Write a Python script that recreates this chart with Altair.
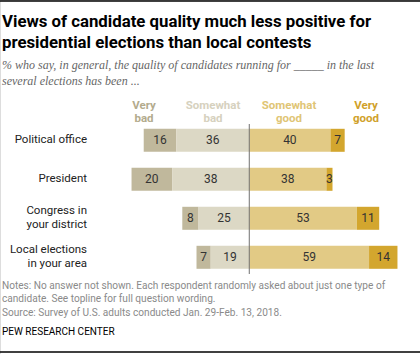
import altair as alt
import pandas as pd

categories = ["Political office", "President", "Congress in\nyour district", "Local elections\nin your area"]
very_bad = [16, 20, 8, 7]
somewhat_bad = [36, 38, 25, 19]
somewhat_good = [40, 38, 53, 59]
very_good = [7, 3, 11, 14]

levels = ["Very bad", "Somewhat bad", "Somewhat good", "Very good"]
header_lines = [["Very", "bad"], ["Somewhat", "bad"], ["Somewhat", "good"], ["Very", "good"]]
colors = ["#C0B89C", "#DCD8C5", "#E2CA85", "#D3A62E"]
header_colors = ["#B3AB8D", "#D6D1BE", "#DFC575", "#D0A12A"]
header_px = [144, 213, 289, 366]

rows = []
for i, c in enumerate(categories):
    vb, sb, sg, vg = very_bad[i], somewhat_bad[i], somewhat_good[i], very_good[i]
    rows.append(dict(cat=c, level="Very bad", v=vb, x=-(sb + vb), x2=-sb))
    rows.append(dict(cat=c, level="Somewhat bad", v=sb, x=-sb, x2=0))
    rows.append(dict(cat=c, level="Somewhat good", v=sg, x=0, x2=sg))
    rows.append(dict(cat=c, level="Very good", v=vg, x=sg, x2=sg + vg))
df = pd.DataFrame(rows)
df["mid"] = (df["x"] + df["x2"]) / 2

W, H = 420, 354
xscale = alt.Scale(domain=[-122.8, 84.1], nice=False, zero=False)
yscale = alt.Scale(domain=categories, range=[120.8, 276.8], paddingInner=0.41, paddingOuter=0.205)

bars = alt.Chart(df).mark_bar().encode(
    x=alt.X("x:Q", scale=xscale, axis=None),
    x2="x2:Q",
    y=alt.Y("cat:N", scale=yscale, axis=None, sort=categories),
    color=alt.Color("level:N", scale=alt.Scale(domain=levels, range=colors), legend=None),
)

labels = alt.Chart(df).mark_text(font="Roboto", fontSize=12, color="#333333", baseline="middle").encode(
    x=alt.X("mid:Q", scale=xscale, axis=None),
    y=alt.Y("cat:N", scale=yscale, axis=None, sort=categories),
    text="v:Q",
)

catdf = pd.DataFrame({"cat": categories, "lab": [c.split("\n") for c in categories],
                      "n": [len(c.split("\n")) for c in categories]})
cat1 = alt.Chart(catdf).transform_filter("datum.n == 1").mark_text(
    font="Roboto", fontSize=11.5, color="#222222", align="right", baseline="middle").encode(
    x=alt.value(87),
    y=alt.Y("cat:N", scale=yscale, axis=None, sort=categories),
    text="lab",
)
cat2 = alt.Chart(catdf).transform_filter("datum.n == 2").mark_text(
    font="Roboto", fontSize=11.5, color="#222222", align="right", baseline="middle", lineHeight=14, dy=-7).encode(
    x=alt.value(87),
    y=alt.Y("cat:N", scale=yscale, axis=None, sort=categories),
    text="lab",
)

zero = alt.Chart(pd.DataFrame({"z": [0]})).mark_rule(color="#707070", strokeWidth=1).encode(
    x=alt.X("z:Q", scale=xscale, axis=None),
    y=alt.value(124), y2=alt.value(274),
)


def txt(lines, x, y, size, color, font="Roboto", weight="normal", style="normal", lh=None, align="left"):
    return alt.Chart(pd.DataFrame({"t": [lines]})).mark_text(
        font=font, fontSize=size, color=color, fontWeight=weight, fontStyle=style,
        align=align, baseline="middle", lineHeight=lh if lh else size * 1.3,
    ).encode(x=alt.value(x), y=alt.value(y), text="t")


headers = [txt(header_lines[i], header_px[i], 105.5, 11.5, header_colors[i], weight="bold", lh=13.5, align="center")
           for i in range(4)]

title = txt(["Views of candidate quality much less positive for",
             "presidential elections than local contests"], 2, 22, 16.8, "#000000", weight="bold", lh=20.7)
subtitle = txt(["% who say, in general, the quality of candidates running for _____ in the last",
                "several elections has been ..."], 2, 65.3, 12, "#666666", font="Liberation Serif", style="italic", lh=15.7)
notes = txt(["Notes: No answer not shown. Each respondent randomly asked about just one type of",
             "candidate. See topline for full question wording.",
             "Source: Survey of U.S. adults conducted Jan. 29-Feb. 13, 2018."], 2, 285.7, 10.1, "#8a8a8a", lh=13.5)
pew = txt(["PEW RESEARCH CENTER"], 2, 332, 10, "#000000")

toprule = alt.Chart(pd.DataFrame({"a": [0]})).mark_rule(color="#000000", strokeWidth=1.5).encode(
    x=alt.value(0), x2=alt.value(W), y=alt.value(1))
botrule = alt.Chart(pd.DataFrame({"a": [0]})).mark_rule(color="#000000", strokeWidth=1.5).encode(
    x=alt.value(0), x2=alt.value(W), y=alt.value(352))

chart = alt.layer(bars, zero, labels, cat1, cat2, *headers, title, subtitle, notes, pew, toprule, botrule).properties(
    width=W, height=H, autosize=alt.AutoSizeParams(type="none"), padding=0,
).configure_view(stroke=None).configure(background="white")

chart.save("out.html", embed_options={"renderer": "svg", "actions": False})
